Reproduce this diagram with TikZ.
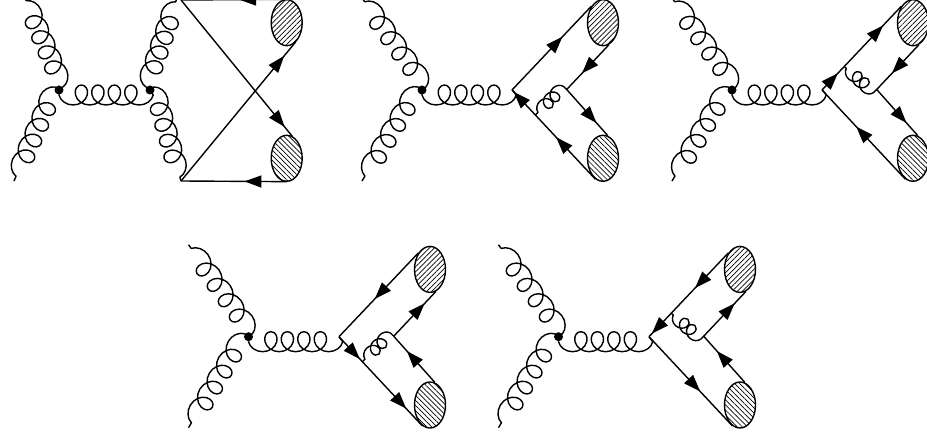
\documentclass[tikz,border=0pt]{standalone}
\usetikzlibrary{calc,arrows.meta,decorations.pathmorphing,decorations.markings,patterns.meta,shapes.geometric}
\tikzset{
  x=1pt,y=-1pt,
  fermion/.style={line width=1.4pt},
  arr/.style={postaction={decorate,decoration={markings,mark=at position #1 with {\arrow{Triangle[length=17pt,width=12pt]}}}}},
  gluonbase/.style={line width=1.4pt,line join=round,decorate},
  gluonA/.style={gluonbase,decoration={coil,aspect=1.0,segment length=#1,amplitude=10pt,mirror}},
  gluonB/.style={gluonbase,decoration={coil,aspect=1.0,segment length=#1,amplitude=10pt}},
  shortA/.style={gluonbase,decoration={coil,aspect=1.0,segment length=9.4pt,amplitude=6.5pt,mirror}},
  shortB/.style={gluonbase,decoration={coil,aspect=1.0,segment length=9.4pt,amplitude=6.5pt}},
  dotv/.style={circle,fill=black,inner sep=0pt,minimum size=9pt},
  blob/.style={ellipse,draw,line width=1.4pt,inner sep=0pt,minimum width=31pt,minimum height=46pt},
  blobup/.style={blob,pattern={Lines[angle=45,distance=3.6pt,line width=.7pt]}},
  blobdown/.style={blob,pattern={Lines[angle=-45,distance=3.6pt,line width=.7pt]}},
}
% common gluon part: origin at the vertex; #4,#5 = x of the far ends of the two incoming gluons
\newcommand\gluonset[7]{%
  \begin{scope}[shift={(#2,#3)}]
    \node[dotv] (#1v) at (0,0) {};
    \coordinate (#1ul) at (#4,-92);
    \coordinate (#1ll) at (#5,91);
    \coordinate (#1j) at (90.5,0);
    \coordinate (#1us) at (4,-3);
    \coordinate (#1ls) at (-4,-3);
    \coordinate (#1ms) at (0,5);
    \draw[fermion] (#1v.center) -- (#1us) (#1v.center) -- (#1ls) (#1v.center) -- (#1ms);
    \draw[gluonA=#6] (#1us) -- (#1ul);
    \draw[gluonA=#7] (#1ls) -- (#1ll);
    \draw[gluonA=16.5pt] (#1ms) -- ($(#1j)+(0,5)$) -- (#1j);
  \end{scope}}
% two blobs and the second vertex of the right-hand fan; origin at the fan's vertex
\newcommand\fan[3]{%
  \begin{scope}[shift={(#2,#3)}]
    \coordinate (#1j) at (0,0);
    \node[blobup] (#1t) at (91,-67.3) {};
    \node[blobdown] (#1b) at (91,68.3) {};
    \coordinate (#1k) at (54.7,-0.5);
  \end{scope}}
\begin{document}
\begin{tikzpicture}
\useasboundingbox (0,0) rectangle (927,438);
\clip (0,0) rectangle (927,438);

% --- diagram 1 ---
\gluonset{a}{59}{90}{-34}{-45}{16.4pt}{17.2pt}
\coordinate (at) at (181,0);
\coordinate (ab) at (181,181);
\coordinate (aue) at (177,-2);
\node[dotv] (aw) at (150,90) {};
\coordinate (aus) at (146,87);
\coordinate (als) at (154,87);
\draw[fermion] (aw.center) -- (aus) (aw.center) -- (als);
\draw[gluonB=15.6pt] (aus) -- (aue);
\draw[gluonB=16.4pt] (als) -- (ab);
\node[blobup] (a1) at (286.7,22.7) {};
\node[blobdown] (a2) at (286.7,158.3) {};
\draw[fermion,arr=0.45] (a1.north) -- (at);
\draw[fermion,arr=0.40] (a2.south) -- (ab);
\draw[fermion,arr=0.93] (at) -- (a2.75);
\draw[fermion,arr=0.90] (ab) -- (a1.-65);

% --- diagram 2 ---
\gluonset{b}{422}{90}{-60}{-60}{18.9pt}{18.6pt}
\fan{c}{512}{90}
\draw[fermion,arr=0.636] (cj) -- (ct.125);
\draw[fermion,arr=0.64] (ct.-75) -- (ck);
\draw[fermion,arr=0.726] (ck) -- (cb.78);
\draw[fermion,arr=0.47,arr=0.98] (cb.250) -- (cj);
\coordinate (cm) at ($(cj)!0.28!(cb.250)$);
\coordinate (cs) at ($(ck)+(-3,-3)$);
\draw[fermion] (ck) -- (cs);
\draw[shortA] (cs) -- (cm);

% --- diagram 3 ---
\gluonset{d}{732}{90}{-60}{-60}{18.9pt}{18.6pt}
\fan{e}{822}{90}
\draw[fermion,arr=0.2,arr=0.77] (ej) -- (et.125);
\draw[fermion,arr=0.64] (et.-75) -- (ek);
\draw[fermion,arr=0.726] (ek) -- (eb.78);
\draw[fermion,arr=0.59] (eb.250) -- (ej);
\coordinate (em) at ($(ej)!0.28!(et.125)$);
\coordinate (es) at ($(ek)+(-3,3)$);
\draw[fermion] (ek) -- (es);
\draw[shortB] (es) -- (em);

% --- diagram 4 ---
\gluonset{f}{248.5}{336.7}{-60}{-60}{18.9pt}{18.6pt}
\fan{g}{339}{336.7}
\draw[fermion,arr=0.55] (gt.125) -- (gj);
\draw[fermion,arr=0.735] (gk) -- (gt.-75);
\draw[fermion,arr=0.25,arr=0.807] (gj) -- (gb.250);
\draw[fermion,arr=0.68] (gb.78) -- (gk);
\coordinate (gm) at ($(gj)!0.28!(gb.250)$);
\coordinate (gs) at ($(gk)+(-3,-3)$);
\draw[fermion] (gk) -- (gs);
\draw[shortA] (gs) -- (gm);

% --- diagram 5 ---
\gluonset{h}{558.5}{336.7}{-60}{-60}{18.9pt}{18.6pt}
\fan{i}{649}{336.7}
\draw[fermion,arr=0.42,arr=0.965] (it.125) -- (ij);
\draw[fermion,arr=0.735] (ik) -- (it.-75);
\draw[fermion,arr=0.614] (ij) -- (ib.250);
\draw[fermion,arr=0.68] (ib.78) -- (ik);
\coordinate (im) at ($(ij)!0.28!(it.125)$);
\coordinate (is) at ($(ik)+(-3,3)$);
\draw[fermion] (ik) -- (is);
\draw[shortB] (is) -- (im);
\end{tikzpicture}
\end{document}
